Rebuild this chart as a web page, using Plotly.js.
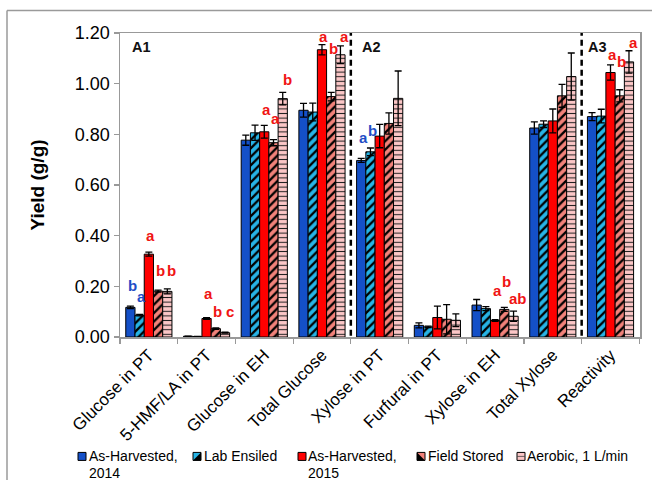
<!DOCTYPE html>
<html>
<head>
<meta charset="utf-8">
<script src="https://cdn.plot.ly/plotly-3.0.1.min.js"></script>
<style>
  html, body { margin: 0; padding: 0; background: #fff; }
  #chart { width: 652px; height: 480px; }
</style>
</head>
<body>
<div id="chart"></div>
<script>
// ---- data -------------------------------------------------------------
const categories = ['Glucose in PT', '5-HMF/LA in PT', 'Glucose in EH', 'Total Glucose',
                    'Xylose in PT', 'Furfural in PT', 'Xylose in EH', 'Total Xylose', 'Reactivity'];

const seriesNames = ['As-Harvested,<br>2014', 'Lab Ensiled', 'As-Harvested,<br>2015',
                     'Field Stored', 'Aerobic, 1 L/min'];

const asHarvested2014 = [0.117, 0.003, 0.777, 0.895, 0.697, 0.046, 0.126, 0.825, 0.870];
const labEnsiled      = [0.086, 0.002, 0.806, 0.888, 0.731, 0.040, 0.112, 0.840, 0.872];
const asHarvested2015 = [0.327, 0.073, 0.810, 1.134, 0.793, 0.077, 0.065, 0.853, 1.044];
const fieldStored     = [0.181, 0.033, 0.767, 0.949, 0.843, 0.070, 0.109, 0.952, 0.952];
const aerobic         = [0.180, 0.017, 0.941, 1.114, 0.942, 0.066, 0.082, 1.028, 1.086];

const sdAsHarvested2014 = [0.005, 0.000, 0.020, 0.027, 0.008, 0.010, 0.022, 0.024, 0.016];
const sdLabEnsiled      = [0.003, 0.000, 0.030, 0.035, 0.015, 0.003, 0.008, 0.013, 0.027];
const sdAsHarvested2015 = [0.008, 0.003, 0.025, 0.020, 0.046, 0.045, 0.003, 0.047, 0.030];
const sdFieldStored     = [0.004, 0.003, 0.012, 0.017, 0.042, 0.058, 0.008, 0.045, 0.024];
const sdAerobic         = [0.010, 0.002, 0.025, 0.035, 0.108, 0.025, 0.020, 0.093, 0.044];

const yTicks = [0, 0.2, 0.4, 0.6, 0.8, 1.0, 1.2];
const panelLabels = ['A1', 'A2', 'A3'];

// significance letters: [category, series index, letter, height]
const sigLetters = [
  ['Glucose in PT', 0, 'b', 0.205], ['Glucose in PT', 1, 'a', 0.159],
  ['Glucose in PT', 2, 'a', 0.400], ['Glucose in PT', 3, 'b', 0.264], ['Glucose in PT', 4, 'b', 0.264],
  ['5-HMF/LA in PT', 2, 'a', 0.173], ['5-HMF/LA in PT', 3, 'b', 0.099], ['5-HMF/LA in PT', 4, 'c', 0.099],
  ['Glucose in EH', 2, 'a', 0.899], ['Glucose in EH', 3, 'a', 0.863], ['Glucose in EH', 4, 'b', 1.018],
  ['Total Glucose', 2, 'a', 1.187], ['Total Glucose', 3, 'b', 1.140], ['Total Glucose', 4, 'a', 1.187],
  ['Xylose in PT', 0, 'a', 0.787], ['Xylose in PT', 1, 'b', 0.817],
  ['Xylose in EH', 2, 'a', 0.183], ['Xylose in EH', 3, 'b', 0.218], ['Xylose in EH', 4, 'ab', 0.152],
  ['Reactivity', 2, 'a', 1.117], ['Reactivity', 3, 'b', 1.087], ['Reactivity', 4, 'a', 1.161]
];

// ---- styling ----------------------------------------------------------
const FONT = 'Liberation Sans, Arial, Helvetica, sans-serif';
const W = 652, H = 480;
const M = { l: 120, r: 12, t: 33, b: 143.3 };
const plotW = W - M.l - M.r, plotH = H - M.t - M.b;
const px2x = p => (p - M.l) / plotW;
const py2y = p => (H - M.b - p) / plotH;

const BLUE = '#1450c8', CYAN = '#27b4e6', RED = '#ff0000', SALMON = '#f2827a', PINK = '#fbc6c6';
const LETTER_RED = '#f01414', LETTER_BLUE = '#1f4ec6';

const values = [asHarvested2014, labEnsiled, asHarvested2015, fieldStored, aerobic];
const sds = [sdAsHarvested2014, sdLabEnsiled, sdAsHarvested2015, sdFieldStored, sdAerobic];
const fills = [BLUE, CYAN, RED, SALMON, PINK];
const patterns = [
  null,
  { shape: '/', fgcolor: '#000', bgcolor: CYAN, size: 6, solidity: 0.38, fgopacity: 1 },
  null,
  { shape: '/', fgcolor: '#000', bgcolor: SALMON, size: 6, solidity: 0.38, fgopacity: 1 },
  { shape: '-', fgcolor: '#222', bgcolor: PINK, size: 4.6, solidity: 0.22, fgopacity: 1 }
];

const traces = values.map((v, i) => {
  const marker = { color: fills[i], line: { color: '#000', width: 1 } };
  if (patterns[i]) marker.pattern = patterns[i];
  return {
    type: 'bar',
    name: seriesNames[i],
    x: categories,
    y: v,
    marker: marker,
    error_y: { type: 'data', array: sds[i], visible: true, color: '#000', thickness: 1.3, width: 3.5 },
    showlegend: false,
    hoverinfo: 'x+y'
  };
});

const bargap = 0.2;
const barPx = plotW / categories.length * (1 - bargap) / values.length;

const annotations = [];
sigLetters.forEach(([cat, s, txt, yv]) => {
  annotations.push({
    x: cat, y: yv, xref: 'x', yref: 'y', text: '<b>' + txt + '</b>', showarrow: false,
    xshift: (s - 2) * barPx + 2 + (s === 4 ? 2.5 : 0), xanchor: 'center', yanchor: 'middle',
    font: { family: FONT, size: 15, color: s < 2 ? LETTER_BLUE : LETTER_RED }
  });
});

// panel tags
[130, 360, 586].forEach((p, i) => {
  annotations.push({
    x: px2x(p), y: py2y(47), xref: 'paper', yref: 'paper', text: '<b>' + panelLabels[i] + '</b>',
    showarrow: false, xanchor: 'left', yanchor: 'middle',
    font: { family: FONT, size: 14.5, color: '#111' }
  });
});

// dashed separators between panels
const shapes = [3.5, 7.5].map(xv => ({
  type: 'line', xref: 'x', yref: 'y', x0: xv, x1: xv, y0: -0.035, y1: 1.2,
  line: { color: '#000', width: 2.5, dash: '6px,4px' }
}));

// outer frame of the figure
shapes.push({ type: 'line', xref: 'paper', yref: 'paper',
  x0: px2x(7), x1: px2x(660), y0: py2y(10.5), y1: py2y(10.5), line: { color: '#9a9a9a', width: 1.5 } });
shapes.push({ type: 'line', xref: 'paper', yref: 'paper',
  x0: px2x(7), x1: px2x(7), y0: py2y(10.5), y1: py2y(490), line: { color: '#9a9a9a', width: 1.5 } });

// legend: swatches + labels along the bottom
const swatchLeft = [78, 193, 298, 417, 517];
const textLeft = [87, 202, 306, 426, 525];
const sy0 = 452, sy1 = 460;
seriesNames.forEach((name, i) => {
  const x0 = swatchLeft[i], x1 = x0 + 8;
  shapes.push({ type: 'rect', xref: 'paper', yref: 'paper',
    x0: px2x(x0), x1: px2x(x1), y0: py2y(sy1), y1: py2y(sy0),
    fillcolor: fills[i], line: { color: '#000', width: 1 } });
  if (i === 1) {
    shapes.push({ type: 'path', xref: 'paper', yref: 'paper', fillcolor: '#000', line: { width: 0 },
      path: `M${px2x(x1)},${py2y(sy0)} L${px2x(x1)},${py2y(sy1)} L${px2x(x0)},${py2y(sy1)} Z` });
  } else if (i === 3) {
    shapes.push({ type: 'path', xref: 'paper', yref: 'paper', fillcolor: '#000', line: { width: 0 },
      path: `M${px2x(x0)},${py2y(sy0)} L${px2x(x1)},${py2y(sy1)} L${px2x(x0)},${py2y(sy1)} Z` });
  } else if (i === 4) {
    shapes.push({ type: 'line', xref: 'paper', yref: 'paper',
      x0: px2x(x0), x1: px2x(x1), y0: py2y((sy0 + sy1) / 2), y1: py2y((sy0 + sy1) / 2),
      line: { color: '#444', width: 0.8 } });
  }
  name.split('<br>').forEach((line, k) => {
    annotations.push({
      x: px2x(textLeft[i]), y: py2y(455.5 + k * 17), xref: 'paper', yref: 'paper',
      text: line, showarrow: false, xanchor: 'left', yanchor: 'middle',
      font: { family: FONT, size: 14, color: '#000' }
    });
  });
});

const layout = {
  width: W, height: H,
  margin: M,
  paper_bgcolor: '#fff', plot_bgcolor: '#fff',
  font: { family: FONT, color: '#000' },
  barmode: 'group', bargap: bargap, bargroupgap: 0,
  showlegend: false,
  xaxis: {
    type: 'category', categoryorder: 'array', categoryarray: categories,
    tickangle: -45, tickfont: { family: FONT, size: 17, color: '#000' },
    ticks: 'outside', tickson: 'boundaries', ticklen: 5, tickcolor: '#999', tickwidth: 1.2,
    showline: true, linecolor: '#999', linewidth: 1.5, mirror: true,
    showgrid: false, zeroline: false, automargin: false
  },
  yaxis: {
    range: [0, 1.2], tickvals: yTicks, tickformat: '.2f',
    tickfont: { family: FONT, size: 18, color: '#000' },
    ticks: 'outside', ticklen: 5, tickcolor: '#999', tickwidth: 1.2,
    showline: true, linecolor: '#999', linewidth: 1.5, mirror: true,
    showgrid: false, zeroline: false, automargin: false,
    title: { text: '<b>Yield (g/g)</b>', font: { family: FONT, size: 19, color: '#000' }, standoff: 25 }
  },
  shapes: shapes,
  annotations: annotations
};

Plotly.newPlot('chart', traces, layout, { displayModeBar: false, staticPlot: true });
</script>
</body>
</html>
